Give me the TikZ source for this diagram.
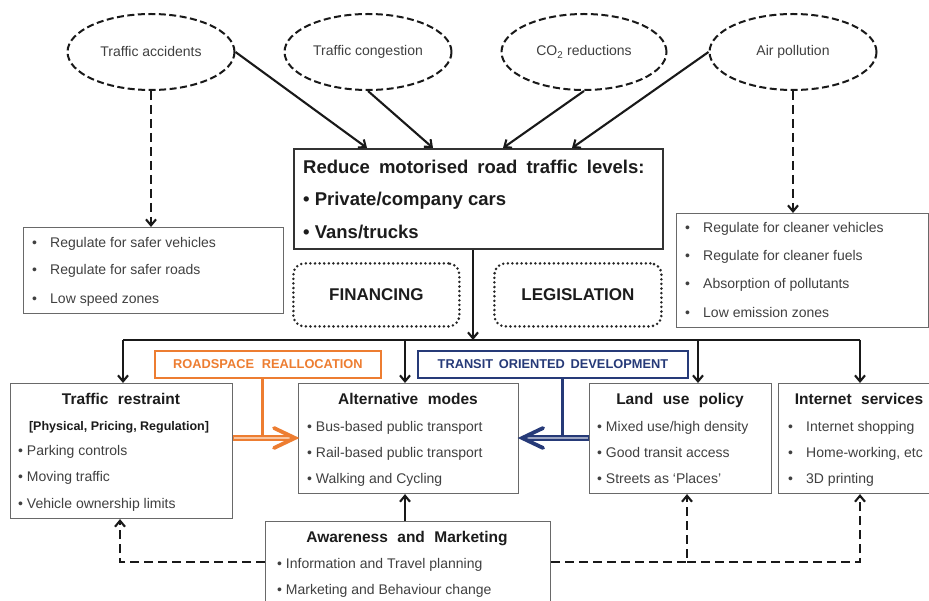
\documentclass[tikz,border=0pt]{standalone}
\usepackage{fontspec}
\setmainfont{Liberation Sans}
\usetikzlibrary{arrows.meta,shapes.geometric,calc}
\definecolor{txtc}{RGB}{64,64,64}
\definecolor{ttlc}{RGB}{28,28,28}
\definecolor{framec}{RGB}{105,105,105}
\definecolor{orng}{RGB}{237,125,49}
\definecolor{navy}{RGB}{38,58,120}
\newcommand\fsz[1]{\fontsize{#1}{#1}\selectfont}
\newcommand\wsp{\hspace{9pt}}
\tikzset{
  issue/.style={ellipse, draw=black!90, line width=2pt, dash pattern=on 7pt off 3.5pt,
    minimum width=167pt, minimum height=76pt, inner sep=0pt, font=\fsz{14}, text=txtc},
  conn/.style={draw=black!90, line width=2.1pt, -{Straight Barb[length=6pt,width=10pt]}},
  dconn/.style={conn, dash pattern=on 9pt off 5pt},
  plainbox/.style={draw=framec, line width=1.1pt, fill=white, inner sep=0pt, anchor=north west},
  mainbox/.style={draw=black!80, line width=2.2pt, fill=white, inner sep=0pt, anchor=north west},
  dotbox/.style={draw=black!85, line width=2.8pt, dash pattern=on 0pt off 4.6pt, line cap=round,
    rounded corners=11pt, inner sep=0pt, anchor=north west, font=\bfseries\fsz{17}, text=ttlc},
  tagbox/.style={line width=1.8pt, fill=white, inner sep=0pt, anchor=north west, font=\bfseries\fsz{12.8}},
  itm/.style={font=\fsz{14}, text=txtc, inner sep=0pt, anchor=mid west, yshift=-3pt},
  bigitm/.style={font=\bfseries\fsz{18.5}, text=ttlc, inner sep=0pt, anchor=mid west, yshift=-3pt},
  boxtitle/.style={font=\bfseries\fsz{15.5}, text=ttlc, inner sep=0pt, anchor=mid, yshift=-3pt},
  band/.style={line width=6.5pt},
  chevron/.style={line width=3.8pt, line join=miter, line cap=round},
}
\begin{document}
\begin{tikzpicture}[x=1pt,y=-1pt]
\useasboundingbox (0,0) rectangle (929,601);
\begin{scope}
\clip (0,0) rectangle (929,601);
\fill[white] (0,0) rectangle (929,601);

% issues
\node[issue] (acc)  at (151,52) {Traffic accidents};
\node[issue] (cong) at (368,52) {Traffic congestion};
\node[issue, minimum width=165pt] (co2) at (584,52) {CO\textsubscript{2} reductions};
\node[issue] (air)  at (793,52) {Air pollution};

% central aim
\node[mainbox, minimum width=369pt, minimum height=100pt] (aim) at (293,148) {};
\node[bigitm] (aim1) at (303,168) {Reduce\wsp motorised\wsp road\wsp traffic\wsp levels:};
\node[bigitm] (aim2) at (303,200) {• Private/company cars};
\node[bigitm] (aim3) at (303,233) {• Vans/trucks};

% safety and cleanliness measures
\node[plainbox, minimum width=260pt, minimum height=86pt] (safe) at (23,227) {};
\node[itm] (safe1) at (32,242) {\makebox[18pt][l]{•}Regulate for safer vehicles};
\node[itm] (safe2) at (32,269) {\makebox[18pt][l]{•}Regulate for safer roads};
\node[itm] (safe3) at (32,298) {\makebox[18pt][l]{•}Low speed zones};

\node[plainbox, minimum width=252pt, minimum height=114pt] (clean) at (676,213) {};
\node[itm] (clean1) at (685,227) {\makebox[18pt][l]{•}Regulate for cleaner vehicles};
\node[itm] (clean2) at (685,255) {\makebox[18pt][l]{•}Regulate for cleaner fuels};
\node[itm] (clean3) at (685,283) {\makebox[18pt][l]{•}Absorption of pollutants};
\node[itm] (clean4) at (685,312) {\makebox[18pt][l]{•}Low emission zones};

% enablers
\node[dotbox, minimum width=166pt, minimum height=63pt] (fin) at (292,262) {FINANCING};
\node[dotbox, minimum width=167pt, minimum height=63pt] (leg) at (493,262) {LEGISLATION};

% policy areas
\node[plainbox, minimum width=222pt, minimum height=135pt] (tr) at (10,383) {};
\node[boxtitle] (trT) at (121,399) {Traffic\,\, restraint};
\node[boxtitle, font=\bfseries\fsz{12.5}] (trS) at (119,425) {[Physical, Pricing, Regulation]};
\node[itm] (tr1) at (18,450) {• Parking controls};
\node[itm] (tr2) at (18,476) {• Moving traffic};
\node[itm] (tr3) at (18,503) {• Vehicle ownership limits};

\node[plainbox, minimum width=220pt, minimum height=110pt] (alt) at (298,383) {};
\node[boxtitle] (altT) at (408,399) {Alternative\,\, modes};
\node[itm] (alt1) at (307,426) {• Bus-based public transport};
\node[itm] (alt2) at (307,452) {• Rail-based public transport};
\node[itm] (alt3) at (307,478) {• Walking and Cycling};

\node[plainbox, minimum width=182pt, minimum height=110pt] (land) at (589,383) {};
\node[boxtitle] (landT) at (680,399) {Land\,\, use\,\, policy};
\node[itm] (land1) at (597,426) {• Mixed use/high density};
\node[itm] (land2) at (597,452) {• Good transit access};
\node[itm] (land3) at (597,478) {• Streets as ‘Places’};

\node[plainbox, minimum width=160pt, minimum height=110pt] (net) at (778,383) {};
\node[boxtitle] (netT) at (859,399) {Internet\,\, services};
\node[itm] (net1) at (788,426) {\makebox[18pt][l]{•}Internet shopping};
\node[itm] (net2) at (788,452) {\makebox[18pt][l]{•}Home-working, etc};
\node[itm] (net3) at (788,478) {\makebox[18pt][l]{•}3D printing};

\node[plainbox, minimum width=285pt, minimum height=95pt] (aware) at (265,521) {};
\node[boxtitle] (awT) at (407,537) {Awareness\,\, and\,\, Marketing};
\node[itm] (aw1) at (277,563) {• Information and Travel planning};
\node[itm] (aw2) at (277,589) {• Marketing and Behaviour change};

% cross-cutting tags
\node[tagbox, draw=orng, text=orng, minimum width=226pt, minimum height=27pt] (road) at (154,350) {ROADSPACE\,\, REALLOCATION};
\node[tagbox, draw=navy, text=navy, minimum width=270pt, minimum height=27pt] (tod) at (417,350) {TRANSIT\, ORIENTED\, DEVELOPMENT};

% issues feeding the aim
\draw[conn] (acc.east) -- (aim.north -| 367,0);
\draw[conn] (cong.south) -- (aim.north -| 433,0);
\draw[conn] (co2.south) -- (aim.north -| 503,0);
\draw[conn] (air.west) -- (aim.north -| 572,0);
\draw[dconn] (acc.south) -- (safe.north -| acc.south);
\draw[dconn] (air.south) -- (clean.north -| air.south);

% distribution bus
\coordinate (hub) at (473,340);
\draw[conn] (aim.south -| hub) -- (hub);
\draw[line width=2.1pt, draw=black!90] (123,340) -- (860,340);
\draw[conn] (123,340) -- (tr.north -| 123,0);
\draw[conn] (405,340) -- (alt.north -| 405,0);
\draw[conn] (698,340) -- (land.north -| 698,0);
\draw[conn] (860,340) -- (net.north -| 860,0);

% awareness links
\draw[conn] (aware.north -| 405,0) -- (alt.south -| 405,0);
\coordinate (dl) at (120,562);
\coordinate (dm) at (687,562);
\coordinate (dr) at (860,562);
\draw[dconn] (aware.west |- dl) -- (dl) -- (tr.south -| dl);
\draw[dconn] (aware.east |- dm) -- (dm) -- (land.south -| dm);
\draw[dconn] (dm) -- (dr) -- (net.south -| dr);

% roadspace reallocation arrow
\coordinate (ob) at (262,438);
\coordinate (otip) at ($(alt.west |- ob)+(-3,0)$);
\draw[orng, line width=3pt] (road.south -| ob) -- ($(ob)+(0,-2)$);
\draw[orng, band] (tr.east |- ob) -- ($(otip)+(-4,0)$);
\draw[orng!45, line width=2.2pt] ($(tr.east |- ob)+(1,0)$) -- ($(otip)+(-5,0)$);
\draw[orng, chevron] ($(otip)+(-21,-10)$) -- (otip) -- ($(otip)+(-21,10)$);

% transit oriented development arrow
\coordinate (nb) at (562,438);
\coordinate (ntip) at ($(alt.east |- nb)+(3,0)$);
\draw[navy, line width=3pt] (tod.south -| nb) -- ($(nb)+(0,-2)$);
\draw[navy, band] (land.west |- nb) -- ($(ntip)+(4,0)$);
\draw[navy!45, line width=2.2pt] ($(land.west |- nb)+(-1,0)$) -- ($(ntip)+(5,0)$);
\draw[navy, chevron] ($(ntip)+(21,-10)$) -- (ntip) -- ($(ntip)+(21,10)$);
\end{scope}
\end{tikzpicture}
\end{document}
